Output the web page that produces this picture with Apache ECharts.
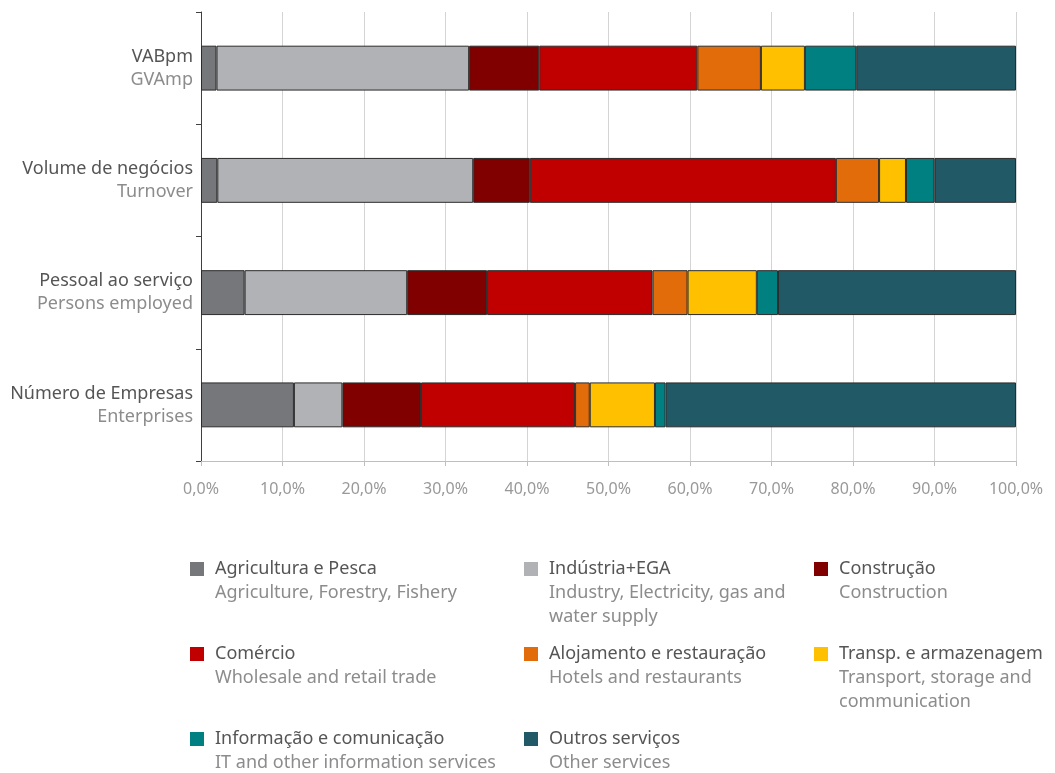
<!DOCTYPE html>
<html>
<head>
<meta charset="utf-8">
<script src="https://cdn.jsdelivr.net/npm/echarts@6/dist/echarts.min.js"></script>
<style>html,body{margin:0;padding:0;background:#fff}#c{width:1055px;height:773px}</style>
</head>
<body>
<div id="c"></div>
<script>
// Categories (top to bottom): Portuguese / English
const categoriesPT = ['VABpm', 'Volume de negócios', 'Pessoal ao serviço', 'Número de Empresas'];
const categoriesEN = ['GVAmp', 'Turnover', 'Persons employed', 'Enterprises'];

// Sector names
const sectorsPT = ['Agricultura e Pesca', 'Indústria+EGA', 'Construção', 'Comércio', 'Alojamento e restauração', 'Transp. e armazenagem', 'Informação e comunicação', 'Outros serviços'];
const sectorsEN = ['Agriculture, Forestry, Fishery', 'Industry, Electricity, gas and\nwater supply', 'Construction', 'Wholesale and retail trade', 'Hotels and restaurants', 'Transport, storage and\ncommunication', 'IT and other information services', 'Other services'];
const sectorColors = ['#76777b', '#b1b2b5', '#800000', '#c00000', '#e36c0a', '#ffc000', '#008080', '#215967'];

// Shares (%) per sector, in category order [VABpm, Turnover, Persons employed, Enterprises]
const agricultura = [1.9, 2.0, 5.35, 11.4];
const industria   = [31.0, 31.4, 19.95, 5.95];
const construcao  = [8.6, 6.95, 9.8, 9.65];
const comercio    = [19.4, 37.55, 20.3, 18.9];
const alojamento  = [7.8, 5.3, 4.3, 1.8];
const transportes = [5.4, 3.3, 8.5, 8.0];
const informacao  = [6.3, 3.5, 2.6, 1.3];
const outros      = [19.6, 10.0, 29.2, 43.0];

const xTicks = ['0,0%', '10,0%', '20,0%', '30,0%', '40,0%', '50,0%', '60,0%', '70,0%', '80,0%', '90,0%', '100,0%'];

const seriesData = [agricultura, industria, construcao, comercio, alojamento, transportes, informacao, outros];

const chart = echarts.init(document.getElementById('c'));
const FONT = '"Noto Sans", "DejaVu Sans", sans-serif';

const series = sectorsPT.map((name, i) => ({
  name: name,
  type: 'bar',
  stack: 'total',
  barWidth: '40%',
  itemStyle: { color: sectorColors[i], borderColor: '#2b2b2b', borderWidth: 1 },
  data: seriesData[i]
}));

// Legend placement (3 columns, 3 rows)
const colX = [185, 519, 809];
const rowY = [560, 645, 730];
const legendRich = {
  pad: { width: 25, lineHeight: 24 },
  a: { fontSize: 18, color: '#555', lineHeight: 24, fontFamily: FONT, padding: [0, 0, 0, 11] },
  b: { fontSize: 18, color: '#8c8c8c', lineHeight: 24, fontFamily: FONT }
};
sectorColors.forEach((c, i) => { legendRich['sq' + i] = { width: 14, height: 14, backgroundColor: c }; });

const legends = sectorsPT.map((name, i) => ({
  data: [name],
  left: colX[i % 3],
  top: rowY[Math.floor(i / 3)],
  icon: 'none',
  itemWidth: 0,
  itemHeight: 0,
  selectedMode: false,
  padding: 0,
  textStyle: { rich: legendRich, fontFamily: FONT },
  formatter: function () {
    const en = sectorsEN[i].split('\n').map(l => '{pad|}{b|' + l + '}').join('\n');
    return '{sq' + i + '|}{a|' + name + '}\n' + en;
  }
}));

chart.setOption({
  animation: false,
  backgroundColor: '#fff',
  grid: { left: 201, right: 39, top: 12, bottom: 312, containLabel: false },
  legend: legends,
  xAxis: {
    type: 'value',
    min: 0,
    max: 100,
    interval: 10,
    axisLine: { show: true, lineStyle: { color: '#bfbfbf', width: 1 } },
    axisTick: { show: true, length: 5, lineStyle: { color: '#bfbfbf' } },
    splitLine: { show: true, lineStyle: { color: '#d4d4d4', width: 1 } },
    axisLabel: {
      color: '#999',
      fontSize: 16,
      fontFamily: FONT,
      margin: 20,
      formatter: function (v) { return xTicks[Math.round(v / 10)]; }
    }
  },
  yAxis: {
    type: 'category',
    inverse: true,
    data: categoriesPT,
    axisLine: { show: true, lineStyle: { color: '#404040', width: 1 } },
    axisTick: { show: true, length: 5, lineStyle: { color: '#404040' } },
    axisLabel: {
      margin: 8,
      align: 'right',
      formatter: function (v, idx) { return '{a|' + v + '}\n{b|' + categoriesEN[idx] + '}'; },
      rich: {
        a: { fontSize: 18, color: '#555', lineHeight: 23, fontFamily: FONT, align: 'right' },
        b: { fontSize: 18, color: '#8c8c8c', lineHeight: 23, fontFamily: FONT, align: 'right' }
      }
    }
  },
  series: series
});
</script>
</body>
</html>
